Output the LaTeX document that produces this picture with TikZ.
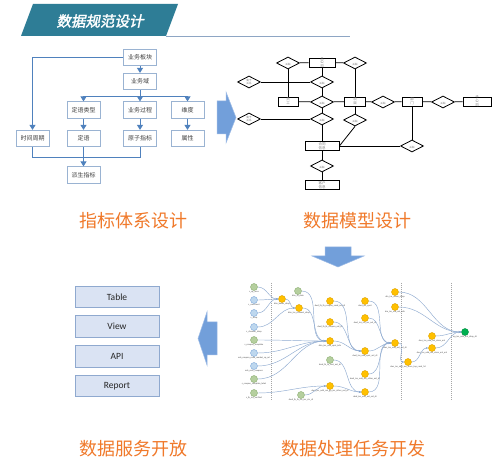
\documentclass[tikz,border=0pt]{standalone}
\usepackage{fontspec}
\setmainfont{Carlito}
\newfontfamily\cjk{Noto Sans CJK SC}
\newfontfamily\cjktitle[FakeSlant=0.2,FakeBold=2]{Noto Sans CJK SC}
\usetikzlibrary{arrows.meta,shapes.geometric,calc}
\definecolor{bannerteal}{HTML}{2E7D96}
\definecolor{bannerline}{HTML}{8EA6C4}
\definecolor{hblue}{HTML}{4F81BD}
\definecolor{hborder}{HTML}{9AB3D2}
\definecolor{htext}{HTML}{404040}
\definecolor{otitle}{HTML}{F0792A}
\definecolor{arrowblue}{HTML}{729FDA}
\definecolor{arrowedge}{HTML}{9DBBE6}
\definecolor{svcfill}{HTML}{DAE3F3}
\definecolor{svcborder}{HTML}{8FA9CF}
\definecolor{dagedge}{HTML}{8EAAD0}
\definecolor{ngreen}{HTML}{B5CF9E}
\definecolor{ngreenb}{HTML}{8CAE72}
\definecolor{nblue}{HTML}{BDD7EE}
\definecolor{nblueb}{HTML}{7DA7D9}
\definecolor{nyellow}{HTML}{FFC000}
\definecolor{nyellowb}{HTML}{DDA200}
\definecolor{nfinal}{HTML}{00B050}
\tikzset{
  hbox/.style={draw=hborder,line width=0.7pt,fill=white,minimum width=33pt,minimum height=16.5pt,inner sep=0pt,font=\cjk\fontsize{6}{7}\selectfont,text=htext},
  hline/.style={draw=hblue,line width=0.9pt},
  harrow/.style={hline,-{Triangle[length=5pt,width=6pt]}},
  otitle/.style={text=otitle,font=\cjk\fontsize{18}{20}\selectfont,inner sep=0pt},
  entity/.style={draw=black,line width=0.8pt,fill=white,inner sep=0pt,font=\cjk\fontsize{3.5}{3.6}\selectfont,text=gray,align=center},
  rel/.style={draw=black,line width=0.8pt,fill=white,diamond,minimum width=23pt,minimum height=12pt,inner sep=0pt,font=\cjk\fontsize{2.8}{3}\selectfont,text=gray,align=center},
  erline/.style={draw=black,line width=0.8pt},
  svc/.style={draw=svcborder,line width=0.7pt,fill=svcfill,minimum width=84pt,minimum height=21.5pt,inner sep=0pt,font=\fontsize{9.5}{11}\selectfont,text=black!85},
  blockarrow/.style={fill=arrowblue,draw=arrowedge,line width=0.5pt},
  dn/.style={circle,minimum size=7pt,inner sep=0pt,line width=0.4pt,label={[font=\fontsize{2.3}{2.5}\selectfont,text=black!70,inner sep=0.5pt]below:#1}},
  gn/.style={dn=#1,fill=ngreen,draw=ngreenb},
  bn/.style={dn=#1,fill=nblue,draw=nblueb},
  yn/.style={dn=#1,fill=nyellow,draw=nyellowb},
  fn/.style={dn=#1,fill=nfinal,draw=nfinal!80!black},
  de/.style={draw=dagedge,line width=0.45pt,-{Stealth[length=2.5pt,width=2pt]}},
  sep/.style={draw=gray!70,line width=0.4pt,dash pattern=on 1pt off 1pt}
}
\begin{document}
\begin{tikzpicture}[x=1pt,y=-1pt]
\useasboundingbox (0,0) rectangle (501,462);
\fill[white] (0,0) rectangle (501,462);
% ---------- banner ----------
\fill[bannerteal] (33,4) -- (178,4) -- (166,36) -- (21,36) -- cycle;
\draw[bannerline,line width=0.6pt] (166,36) -- (350,36);
\node[text=white,font=\cjktitle\fontsize{14.5}{16}\selectfont,inner sep=0pt] (banner) at (100,21) {数据规范设计};
% ---------- hierarchy ----------
\node[hbox] (bk) at (140,57.5) {业务板块};
\node[hbox] (yw) at (140,81.5) {业务域};
\node[hbox] (dllx) at (83.5,110) {定语类型};
\node[hbox] (gc) at (140,110) {业务过程};
\node[hbox] (wd) at (187.5,110) {维度};
\node[hbox] (sj) at (32.5,138.5) {时间周期};
\node[hbox] (dy) at (83.5,138.5) {定语};
\node[hbox] (yz) at (140,138.5) {原子指标};
\node[hbox] (sx) at (187.5,138.5) {属性};
\node[hbox] (ps) at (83.5,175) {派生指标};
\coordinate (hj) at (140,96);
\coordinate (bj) at (83.5,157);
\draw[harrow] (bk.west) -| (sj.north);
\draw[harrow] (bk) -- (yw);
\draw[harrow] (yw) -- (gc);
\draw[harrow] (hj) -| (dllx.north);
\draw[harrow] (hj) -| (wd.north);
\draw[harrow] (dllx) -- (dy);
\draw[harrow] (gc) -- (yz);
\draw[harrow] (wd) -- (sx);
\draw[hline] (sj.south) |- (bj);
\draw[hline] (yz.south) |- (bj);
\draw[harrow] (dy) -- (ps);
% ---------- right block arrow ----------
\draw[blockarrow] (217,101) -- (226,101) -- (226,92) -- (236,117.5) -- (226,143) -- (226,134) -- (217,134) -- cycle;
% ---------- ER diagram ----------
\node[entity,minimum width=26pt,minimum height=9pt] (e1) at (322,62.5) {};
\node[entity,minimum width=20pt,minimum height=9pt] (e2) at (288,101.5) {};
\node[entity,minimum width=21pt,minimum height=9pt] (e3) at (355,101.5) {};
\node[entity,minimum width=20pt,minimum height=9pt] (e4) at (412,101.5) {};
\node[entity,minimum width=28pt,minimum height=9pt] (e5) at (477,101.5) {};
\node[entity,minimum width=34pt,minimum height=8.5pt] (e6) at (322,146) {};
\node[entity,minimum width=34pt,minimum height=8.5pt] (e7) at (322,185) {};
\node[rel] (r1) at (288,63) {};
\node[rel] (r2) at (355,63) {};
\node[rel] (r3) at (249,82) {};
\node[rel] (r4) at (322,82) {};
\node[rel] (r5) at (322,102) {};
\node[rel] (r6) at (383,102) {};
\node[rel] (r7) at (443,102) {};
\node[rel] (r8) at (249,119) {};
\node[rel] (r9) at (322,119) {};
\node[rel] (r10) at (355,120) {};
\node[rel] (r11) at (412,146) {};
\node[rel] (r12) at (322,166) {};
\draw[erline] (r1) -- (e1) -- (r2);
\draw[erline] (r1) -- (e2);
\draw[erline] (r2) -- (e3);
\draw[erline] (e1) -- (r4) -- (r5) -- (r9) -- (e6) -- (r12) -- (e7);
\draw[erline] (r3) -- (r4);
\draw[erline] (e2) -- (r5) -- (e3) -- (r6) -- (e4) -- (r7) -- (e5);
\draw[erline] (r8) -- (r9);
\draw[erline] (e3) -- (r10);
\draw[erline] (r10.south) -- (e6.east);
\draw[erline] (e6) -- (r11);
\draw[erline] (e4) -- (r11);
\foreach \n/\t in {e1/总\\公\\司,e2/员\\工,e3/项\\目,e4/部\\门,e5/子\\公\\司,e6/合同\\信息,e7/客户\\信息}{
  \node[font=\cjk\fontsize{3.5}{3.8}\selectfont,text=gray,align=center,inner sep=0pt] at (\n) {\t};
}
\foreach \n in {r1,r2,r4,r5,r6,r7,r9,r10,r11,r12}{
  \node[font=\cjk\fontsize{2.6}{3}\selectfont,text=gray,inner sep=0pt] at ($(\n)+(0,2)$) {关联};
}
\foreach \n in {r3,r8}{
  \node[font=\cjk\fontsize{2.6}{3}\selectfont,text=gray,inner sep=0pt,align=center] at (\n) {属于\\关系};
}
% ---------- titles ----------
\node[otitle] (t1) at (133,221) {指标体系设计};
\node[otitle] (t2) at (357,221) {数据模型设计};
\node[otitle] (t3) at (133,449) {数据服务开放};
\node[otitle] (t4) at (353,449) {数据处理任务开发};
% ---------- down arrow ----------
\draw[blockarrow] (325,247) -- (351,247) -- (351,256) -- (364,256) -- (338,267) -- (312,256) -- (325,256) -- cycle;
% ---------- left arrow ----------
\draw[blockarrow] (217,322) -- (217,355) -- (207,355) -- (207,365) -- (198,338.5) -- (207,312) -- (207,322) -- cycle;
% ---------- services ----------
\node[svc] (tab) at (117,297) {Table};
\node[svc] (view) at (117,326.5) {View};
\node[svc] (api) at (117,356.5) {API};
\node[svc] (rep) at (117,386) {Report};
% ---------- DAG ----------
\coordinate (sa1) at (271,283); \coordinate (sa2) at (271,400);
\coordinate (sb1) at (401,283); \coordinate (sb2) at (401,400);
\coordinate (sc1) at (451,283); \coordinate (sc2) at (451,400);
\draw[sep] (sa1) -- (sa2);
\draw[sep] (sb1) -- (sb2);
\draw[sep] (sc1) -- (sc2);
\node[gn=s\_sp\_area] (s1) at (254,287) {};
\node[bn=s\_merchant] (s2) at (254,300) {};
\node[bn=s\_shop] (s3) at (254,313) {};
\node[bn=s\_channel\_shop] (s4) at (254,327) {};
\node[gn=s\_coupon\_template] (s5) at (254,340) {};
\node[bn=ods\_coupon\_code\_market\_cp\_rel] (s6) at (254,353) {};
\node[bn=ods\_ordr\_coupons] (s7) at (254,366) {};
\node[gn=s\_coupon\_template\_label] (s8) at (254,379) {};
\node[gn=s\_lb\_ins\_verified] (s9) at (254,393) {};
\node[gn=dim\_lb\_date] (a1) at (298,291) {};
\node[yn=dim\_bases\_shop] (a2) at (282,299) {};
\node[yn=dim\_ins\_channel\_shop] (a3) at (299,308) {};
\node[gn=dwd\_lb\_lb\_ins\_ins\_cts\_di] (a4) at (301,395) {};
\node[yn=dwd\_lb\_lb\_coupon\_send\_anl\_di] (b1) at (330,301) {};
\node[yn=dwd\_lb\_lb\_coupon\_anl\_di] (b2) at (330,322) {};
\node[yn=dim\_ins\_odd\_spot\_info] (b3) at (330,341) {};
\node[gn=dwd\_lb\_lb\_cost\_anl\_di] (b4) at (330,360) {};
\node[yn=dwd\_ins\_odd\_anl\_gp\_ins\_other\_anl\_di] (b5) at (330,386) {};
\node[yn=dwd\_ins\_spot] (c1) at (365,301) {};
\node[yn=dwd\_ins\_ins\_ins\_anl\_di] (c2) at (365,318) {};
\node[yn=dwd\_ins\_odd\_spot\_anl\_di] (c3) at (365,351) {};
\node[yn=dwd\_ins\_odd\_anl\_other\_anl\_di] (c4) at (365,374) {};
\node[yn=dwd\_ins\_odd\_anl\_anl\_di] (c5) at (365,392) {};
\node[yn=dm\_ins\_name\_shop] (k1) at (395,292) {};
\node[yn=dm\_ins\_ord\_anl\_info] (k2) at (395,307) {};
\node[yn=dws\_ins\_odd\_anl\_anl\_di] (k3) at (395,343) {};
\node[yn=dws\_ins\_odd\_anl\_store\_top\_rank\_1d] (f1) at (408,362) {};
\node[yn=dws\_ins\_odd\_anl\_store\_anl] (f2) at (432,336) {};
\node[yn=dws\_ins\_odd\_anl\_store\_anl\_anl] (f3) at (432,348) {};
\node[fn=ap\_ins\_odd\_anl\_shop\_dt] (g) at (465,332) {};
\foreach \a/\b in {s1/a2,s2/a2,s3/a2,s4/a3,a2/a3,a1/b3,a3/b3,s5/b3,s6/b3,s7/b3,s8/b3,s9/b5,a4/b5,b1/c3,b2/c3,b3/c3,b4/c5,b5/c5,c1/k3,c2/k3,c3/k3,c4/k3,c5/k3,k3/f1,f1/f3,f2/g,f3/g,k1/g,k2/g}{
  \draw[de] (\a) to[out=0,in=180] (\b);
}
\end{tikzpicture}
\end{document}
